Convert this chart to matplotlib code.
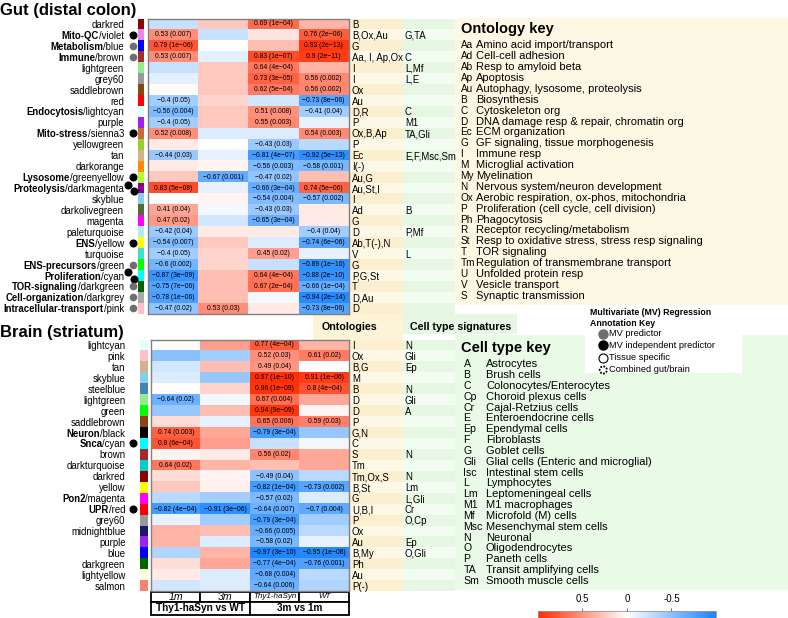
import numpy as np
import matplotlib.pyplot as plt
from matplotlib.colors import LinearSegmentedColormap, Normalize
from matplotlib.patches import Rectangle, Circle
from matplotlib.transforms import blended_transform_factory

plt.rcParams['font.family'] = ['Liberation Sans', 'DejaVu Sans']

W, H = 788, 618

# ---------------- data ----------------
conditions = ['1m', '3m', 'Thy1-haSyn', 'WT']
comparisons = ['Thy1-haSyn vs WT', '3m vs 1m']

gut_modules = ['darkred', 'violet', 'blue', 'brown', 'lightgreen', 'grey60', 'saddlebrown', 'red',
               'lightcyan', 'purple', 'sienna3', 'yellowgreen', 'tan', 'darkorange', 'greenyellow',
               'darkmagenta', 'skyblue', 'darkolivegreen', 'magenta', 'paleturquoise', 'yellow',
               'turquoise', 'green', 'cyan', 'darkgreen', 'darkgrey', 'pink']
gut_names = ['', 'Mito-QC', 'Metabolism', 'Immune', '', '', '', '', 'Endocytosis', '', 'Mito-stress',
             '', '', '', 'Lysosome', 'Proteolysis', '', '', '', '', 'ENS', '', 'ENS-precursors',
             'Proliferation', 'TOR-signaling', 'Cell-organization', 'Intracellular-transport']
gut_r = np.array([
    [-0.25, 0.25, 0.69, 0.35],
    [0.53, -0.25, 0.12, 0.76],
    [0.79, 0.0, 0.3, 0.93],
    [0.53, -0.12, 0.83, 0.9],
    [-0.25, 0.25, 0.64, 0.35],
    [-0.12, 0.25, 0.73, 0.56],
    [0.02, 0.25, 0.62, 0.56],
    [-0.4, 0.2, -0.2, -0.73],
    [-0.56, 0.25, 0.51, -0.41],
    [-0.4, 0.25, 0.55, -0.1],
    [0.52, -0.15, -0.15, 0.54],
    [0.1, 0.0, -0.43, -0.3],
    [-0.44, -0.1, -0.81, -0.92],
    [0.1, 0.05, -0.56, -0.58],
    [0.25, -0.67, -0.47, 0.3],
    [0.83, -0.1, -0.66, 0.74],
    [0.0, 0.05, -0.54, -0.57],
    [0.41, -0.05, -0.43, 0.1],
    [0.47, -0.2, -0.65, 0.1],
    [-0.42, 0.1, 0.1, -0.4],
    [-0.54, 0.25, -0.15, -0.74],
    [-0.4, 0.2, 0.45, -0.1],
    [-0.6, 0.2, -0.25, -0.89],
    [-0.87, 0.3, 0.64, -0.88],
    [-0.75, 0.3, 0.67, -0.66],
    [-0.78, 0.3, -0.05, -0.94],
    [-0.47, 0.53, 0.1, -0.73],
])
gut_p = [
    ['', '', '1e-04', ''],
    ['0.007', '', '', '2e-06'],
    ['1e-06', '', '', '2e-13'],
    ['0.007', '', '1e-07', '2e-11'],
    ['', '', '4e-04', ''],
    ['', '', '3e-05', '0.002'],
    ['', '', '5e-04', '0.002'],
    ['0.05', '', '', '8e-06'],
    ['0.004', '', '0.008', '0.04'],
    ['0.05', '', '0.003', ''],
    ['0.008', '', '', '0.003'],
    ['', '', '0.03', ''],
    ['0.03', '', '4e-07', '5e-13'],
    ['', '', '0.003', '0.001'],
    ['', '0.001', '0.02', ''],
    ['5e-08', '', '3e-04', '5e-06'],
    ['', '', '0.004', '0.002'],
    ['0.04', '', '0.03', ''],
    ['0.02', '', '3e-04', ''],
    ['0.04', '', '', '0.04'],
    ['0.007', '', '', '6e-06'],
    ['0.05', '', '0.02', ''],
    ['0.002', '', '', '1e-10'],
    ['3e-09', '', '4e-04', '2e-10'],
    ['7e-06', '', '2e-04', '1e-04'],
    ['1e-06', '', '', '2e-14'],
    ['0.02', '0.03', '', '8e-06'],
]
gut_marks = ['', 'k', 'g', 'g', '', '', '', '', '', '', 'k', '', '', '', 'k', 'kk', '', '', '', '',
             'k', '', 'g', 'kk', 'g', 'g', 'g']
gut_onto = ['B', 'B,Ox,Au', 'G', 'Aa, I, Ap,Ox', 'I', 'I', 'Ox', 'Au', 'D,R', 'P', 'Ox,B,Ap', 'P', 'Ec',
            'I(-)', 'Au,G', 'Au,St,I', 'I', 'Ad', 'G', 'D', 'Ab,T(-),N', 'V', 'G', 'P,G,St', 'T',
            'D,Au', 'D']
gut_cells = ['', 'G,TA', '', 'C', 'L,Mf', 'L,E', '', '', 'C', 'M1', 'TA,Gli', '', 'E,F,Msc,Sm', '',
             '', '', '', 'B', '', 'P,Mf', '', 'L', '', '', '', '', '']

brain_modules = ['lightcyan', 'pink', 'tan', 'skyblue', 'steelblue', 'lightgreen', 'green',
                 'saddlebrown', 'black', 'cyan', 'brown', 'darkturquoise', 'darkred', 'yellow',
                 'magenta', 'red', 'grey60', 'midnightblue', 'purple', 'blue', 'darkgreen',
                 'lightyellow', 'salmon']
brain_names = ['', '', '', '', '', '', '', '', 'Neuron', 'Snca', '', '', '', '', 'Pon2', 'UPR',
               '', '', '', '', '', '', '']
brain_r = np.array([
    [0.0, 0.45, 0.77, 0.35],
    [-0.5, -0.4, 0.52, 0.61],
    [-0.2, 0.3, 0.49, 0.0],
    [-0.15, -0.45, 0.97, 0.91],
    [0.0, 0.2, 0.96, 0.8],
    [-0.64, -0.05, 0.67, 0.4],
    [-0.45, 0.3, 0.94, 0.05],
    [0.15, -0.1, 0.65, 0.59],
    [0.74, 0.4, -0.79, -0.45],
    [0.8, 0.45, -0.25, -0.05],
    [0.05, 0.1, 0.56, 0.4],
    [0.64, 0.35, 0.3, 0.4],
    [0.15, 0.05, -0.49, -0.3],
    [0.25, 0.07, -0.82, -0.73],
    [-0.3, -0.4, -0.57, -0.15],
    [-0.82, -0.91, -0.64, -0.7],
    [-0.1, -0.4, -0.79, -0.4],
    [0.35, 0.3, -0.66, -0.3],
    [0.35, -0.15, -0.58, -0.1],
    [-0.35, 0.35, -0.97, -0.95],
    [0.15, 0.4, -0.77, -0.76],
    [0.1, -0.15, -0.68, -0.3],
    [-0.2, -0.15, -0.64, -0.35],
])
brain_p = [
    ['', '', '4e-04', ''],
    ['', '', '0.03', '0.02'],
    ['', '', '0.04', ''],
    ['', '', '1e-10', '1e-06'],
    ['', '', '1e-09', '4e-04'],
    ['0.02', '', '0.004', ''],
    ['', '', '9e-09', ''],
    ['', '', '0.006', '0.03'],
    ['0.003', '', '3e-04', ''],
    ['6e-04', '', '', ''],
    ['', '', '0.02', ''],
    ['0.02', '', '', ''],
    ['', '', '0.04', ''],
    ['', '', '1e-04', '0.002'],
    ['', '', '0.02', ''],
    ['4e-04', '3e-06', '0.007', '0.004'],
    ['', '', '3e-04', ''],
    ['', '', '0.005', ''],
    ['', '', '0.02', ''],
    ['', '', '3e-10', '1e-08'],
    ['', '', '4e-04', '0.001'],
    ['', '', '0.004', ''],
    ['', '', '0.006', ''],
]
brain_marks = ['', '', '', '', '', '', '', '', '', 'k', '', '', '', '', '', 'k', '', '', '', '', '',
               '', '']
brain_onto = ['I', 'Ox', 'B,G', 'M', 'B', 'D', 'D', 'P', 'G,N', 'C', 'S', 'Tm', 'Tm,Ox,S', 'B,St', 'G',
              'U,B,I', 'P', 'Ox', 'Au', 'B,My', 'Ph', 'Au', 'P(-)']
brain_cells = ['N', 'Gli', 'Ep', '', 'N', 'Gli', 'A', '', '', '', 'N', '', 'N', 'Lm', 'L,Gli', 'Cr',
               'O,Cp', '', 'Ep', 'O,Gli', '', '', '']

onto_abbr = ['Aa', 'Ad', 'Ab', 'Ap', 'Au', 'B', 'C', 'D', 'Ec', 'G', 'I', 'M', 'My', 'N', 'Ox', 'P',
             'Ph', 'R', 'St', 'T', 'Tm', 'U', 'V', 'S']
onto_desc = ['Amino acid import/transport', 'Cell-cell adhesion', 'Resp to amyloid beta', 'Apoptosis',
             'Autophagy, lysosome, proteolysis', 'Biosynthesis', 'Cytoskeleton org',
             'DNA damage resp & repair, chromatin org', 'ECM organization',
             'GF signaling, tissue morphogenesis', 'Immune resp', 'Microglial activation',
             'Myelination', 'Nervous system/neuron development',
             'Aerobic respiration, ox-phos, mitochondria', 'Proliferation (cell cycle, cell division)',
             'Phagocytosis', 'Receptor recycling/metabolism',
             'Resp to oxidative stress, stress resp signaling', 'TOR signaling',
             'Regulation of transmembrane transport', 'Unfolded protein resp', 'Vesicle transport',
             'Synaptic transmission']
cell_abbr = ['A', 'B', 'C', 'Cp', 'Cr', 'E', 'Ep', 'F', 'G', 'Gli', 'Isc', 'L', 'Lm', 'M1', 'Mf', 'Msc',
             'N', 'O', 'P', 'TA', 'Sm']
cell_desc = ['Astrocytes', 'Brush cells', 'Colonocytes/Enterocytes', 'Choroid plexus cells',
             'Cajal-Retzius cells', 'Enteroendocrine cells', 'Ependymal cells', 'Fibroblasts',
             'Goblet cells', 'Glial cells (Enteric and microglial)', 'Intestinal stem cells',
             'Lymphocytes', 'Leptomeningeal cells', 'M1 macrophages', 'Microfold (M) cells',
             'Mesenchymal stem cells', 'Neuronal', 'Oligodendrocytes', 'Paneth cells',
             'Transit amplifying cells', 'Smooth muscle cells']
annot_labels = ['MV predictor', 'MV independent predictor', 'Tissue specific', 'Combined gut/brain']

# R colour names that matplotlib doesn't know (or knows differently)
MOD_COLORS = {'grey60': '#999999', 'sienna3': '#CD6839', 'purple': '#A020F0', 'green': '#00FF00',
              'darkgrey': '#A9A9A9', 'darkgreen': '#006400'}

cmap = LinearSegmentedColormap.from_list('bwr_', ['#1a84ff', '#ffffff', '#ff2a00'])
norm = Normalize(vmin=-1, vmax=1)
ONTO_BG = ['#fbefd0', '#fdf8e6']
CELL_BG = ['#e6f8e3', '#f3fcf1']
FS = 6.9


def frac(x0, y0, x1, y1):
    return [x0 / W, 1 - y1 / H, (x1 - x0) / W, (y1 - y0) / H]


fig = plt.figure(figsize=(W / 100, H / 100), dpi=100)
ax = fig.add_axes([0, 0, 1, 1])
ax.set_xlim(0, W)
ax.set_ylim(H, 0)
ax.axis('off')
renderer = fig.canvas.get_renderer()

# key boxes
ax.add_patch(Rectangle((455.5, 18), W - 455.5, 287, facecolor='#fdf8e4', edgecolor='none'))
ax.add_patch(Rectangle((455.5, 335), W - 455.5, 255, facecolor='#e9fbe7', edgecolor='none'))
ax.add_patch(Rectangle((585, 305), 157, 68, facecolor='white', edgecolor='none', zorder=2))
ax.add_patch(Rectangle((313, 314), 90, 26, facecolor='#fdf3d6', edgecolor='none'))
ax.add_patch(Rectangle((403, 314), 114, 20, facecolor='#e6f8e3', edgecolor='none'))
ax.text(321.5, 327, 'Ontologies', fontsize=7.7, fontweight='bold', va='center')
ax.text(410, 326.5, 'Cell type signatures', fontsize=7.7, fontweight='bold', va='center')

ax.text(0, 14.5, 'Gut (distal colon)', fontsize=12, fontweight='bold', va='baseline')
ax.text(0, 336.5, 'Brain (striatum)', fontsize=12, fontweight='bold', va='baseline')


def panel(box, strip, label_x, dot_x, modules, names, r, p, marks, onto, cells):
    hm = fig.add_axes(frac(*box))
    im = hm.imshow(r, cmap=cmap, norm=norm, aspect='auto', interpolation='nearest')
    hm.set_xticks([])
    hm.set_yticks([])
    for s in hm.spines.values():
        s.set_edgecolor('#808080')
        s.set_linewidth(1)
    for i in range(r.shape[0]):
        for j in range(r.shape[1]):
            if p[i][j]:
                txt = f'{r[i, j]:g} ({p[i][j]})'.replace('-', '\u2212')
                hm.text(j, i, txt, ha='center', va='center', fontsize=4.9)

    tr = blended_transform_factory(ax.transData, hm.transData)
    for i, mod in enumerate(modules):
        ax.add_patch(Rectangle((strip[0], i - 0.5), strip[1] - strip[0], 1, transform=tr,
                               facecolor=MOD_COLORS.get(mod, mod), edgecolor='none'))
        ax.add_patch(Rectangle((349.5, i - 0.5), 53.5, 1, transform=tr,
                               facecolor=ONTO_BG[i % 2], edgecolor='none'))
        ax.add_patch(Rectangle((403, i - 0.5), 52.5, 1, transform=tr,
                               facecolor=CELL_BG[i % 2], edgecolor='none'))
        ax.text(352, i, onto[i], transform=tr, ha='left', va='center_baseline', fontsize=FS)
        ax.text(405, i, cells[i], transform=tr, ha='left', va='center_baseline', fontsize=FS)

        reg = '/' + mod if names[i] else mod
        t = ax.text(label_x, i, reg, transform=tr, ha='right', va='center_baseline', fontsize=FS)
        if names[i]:
            w = t.get_window_extent(renderer).width
            ax.text(label_x - w, i, names[i], transform=tr, ha='right', va='center_baseline',
                    fontsize=FS, fontweight='bold')
        m = marks[i]
        if m == 'k':
            ax.plot([dot_x], [i], 'o', color='black', ms=4.8, transform=tr, clip_on=False)
        elif m == 'g':
            ax.plot([dot_x], [i], 'o', color='#6e6e6e', ms=4.5, transform=tr, clip_on=False)
        elif m == 'kk':
            ax.plot([dot_x - 5, dot_x + 1], [i - 0.28, i + 0.28], 'o', color='black', ms=4.8,
                    transform=tr, clip_on=False)
    return im


im = panel((148, 18.5, 348.5, 313.8), (138, 144.5), 124, 133, gut_modules, gut_names, gut_r,
           gut_p, gut_marks, gut_onto, gut_cells)
panel((151, 339.5, 349, 591.2), (140.5, 148), 125.5, 132.7, brain_modules, brain_names, brain_r,
      brain_p, brain_marks, brain_onto, brain_cells)

# condition boxes under the brain heatmap
col_edges = [151, 200.5, 250, 299.5, 349]
for k, lab in enumerate(conditions):
    x0, x1 = col_edges[k], col_edges[k + 1]
    ax.add_patch(Rectangle((x0, 591.5), x1 - x0, 10, facecolor='white', edgecolor='black', lw=1.3))
    ax.text((x0 + x1) / 2, 596.5, lab, ha='center', va='center', style='italic',
            fontsize=7.6 if k < 2 else 5.8)
for k, lab in enumerate(comparisons):
    x0, x1 = col_edges[2 * k], col_edges[2 * k + 2]
    ax.add_patch(Rectangle((x0, 601.5), x1 - x0, 13, facecolor='white', edgecolor='black', lw=1.3))
    ax.text((x0 + x1) / 2, 608.2, lab, ha='center', va='center', fontweight='bold', fontsize=7.2)

# ontology key
ax.text(461, 29.5, 'Ontology key', fontsize=10.5, fontweight='bold', va='center')
for k, (a, d) in enumerate(zip(onto_abbr, onto_desc)):
    y = 44.3 + k * 10.89
    ax.text(460.5, y, a, fontsize=7.2, va='center_baseline')
    ax.text(476, y, d, fontsize=8, va='center_baseline')

# cell type key
ax.text(461, 348, 'Cell type key', fontsize=10.5, fontweight='bold', va='center')
for k, (a, d) in enumerate(zip(cell_abbr, cell_desc)):
    y = 363.3 + k * 10.83
    ax.text(463.5, y, a, fontsize=7.6, va='center_baseline')
    ax.text(486, y, d, fontsize=8, va='center_baseline')

# MV annotation key
ax.text(590, 312.5, 'Multivariate (MV) Regression', fontsize=6.3, fontweight='bold', va='center',
        zorder=3)
ax.text(590, 323.5, 'Annotation Key', fontsize=6.3, fontweight='bold', va='center', zorder=3)
ys = [334, 345.3, 357.7, 370]
ax.plot([603.3], [ys[0]], 'o', color='#6e6e6e', ms=6.5, zorder=3)
ax.plot([603.3], [ys[1]], 'o', color='black', ms=6.5, zorder=3)
ax.plot([603.3], [ys[2]], 'o', mfc='white', mec='black', mew=0.8, ms=6.5, zorder=3)
ax.add_patch(Circle((603.3, ys[3]), 3.6, fill=False, ec='black', lw=1.3, ls=(0, (1, 0.8)), zorder=3))
for y, lab in zip(ys, annot_labels):
    ax.text(609, y, lab, fontsize=6.7, va='center', zorder=3)

# colorbar (positive on the left)
cax = fig.add_axes(frac(537.7, 611, 716, 617.5))
cb = fig.colorbar(im, cax=cax, orientation='horizontal')
cax.invert_xaxis()
cb.set_ticks([0.5, 0, -0.5])
cb.set_ticklabels(['0.5', '0', '-0.5'])
cax.xaxis.set_ticks_position('top')
cax.xaxis.set_label_position('top')
cax.tick_params(length=2, width=0.6, labelsize=7, pad=3, color='#555555')
cb.outline.set_edgecolor('#999999')
cb.outline.set_linewidth(0.6)

fig.savefig('out.png', dpi=100)
